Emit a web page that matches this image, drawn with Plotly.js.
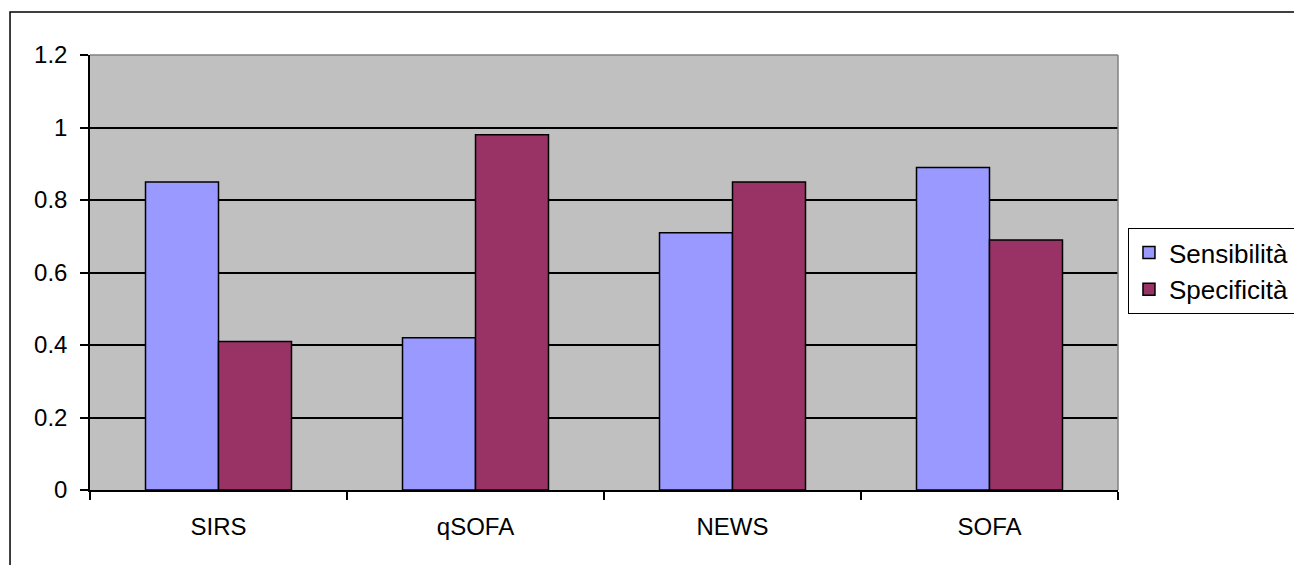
<!DOCTYPE html>
<html>
<head>
<meta charset="utf-8">
<script src="https://cdn.plot.ly/plotly-3.0.1.min.js"></script>
<style>html,body{margin:0;padding:0;background:#fff;}#chart{width:1294px;height:565px;}</style>
</head>
<body>
<div id="chart"></div>
<script>
const categories = ["SIRS", "qSOFA", "NEWS", "SOFA"];
const sensibilita = [0.85, 0.42, 0.71, 0.89];
const specificita = [0.41, 0.98, 0.85, 0.69];
const seriesNames = ["Sensibilità", "Specificità"];
const yTicks = [0, 0.2, 0.4, 0.6, 0.8, 1, 1.2];

const font = {family: "Liberation Sans, Arial, sans-serif", size: 24, color: "#000"};
const legendFont = {family: "Liberation Sans, Arial, sans-serif", size: 26, color: "#000"};

const traces = [
  {type: "bar", name: seriesNames[0], x: categories, y: sensibilita,
   marker: {color: "#9999FF", line: {color: "#000", width: 1.5}}, hoverinfo: "x+y"},
  {type: "bar", name: seriesNames[1], x: categories, y: specificita,
   marker: {color: "#993366", line: {color: "#000", width: 1.5}}, hoverinfo: "x+y"}
];

const layout = {
  width: 1294, height: 565,
  margin: {l: 90, r: 176, t: 55, b: 75, pad: 0, autoexpand: false},
  paper_bgcolor: "#fff",
  plot_bgcolor: "#C0C0C0",
  font: font,
  barmode: "group",
  bargap: 0.432,
  bargroupgap: 0,
  showlegend: true,
  legend: {x: 1.0097, y: 0.602, xanchor: "left", yanchor: "top",
           bgcolor: "#fff", bordercolor: "#000", borderwidth: 1,
           font: legendFont, tracegroupgap: 0, itemwidth: 30},
  xaxis: {type: "category", tickson: "boundaries", ticks: "outside", ticklen: 8,
          tickcolor: "#000", tickwidth: 1.5, showline: true, linecolor: "#000", linewidth: 1.5,
          showgrid: false, ticklabelstandoff: 14, tickfont: font, fixedrange: true, automargin: false},
  yaxis: {range: [0, 1.2], tickvals: yTicks, ticks: "outside", ticklen: 8, tickcolor: "#000",
          tickwidth: 1.5, showline: true, linecolor: "#000", linewidth: 1.5,
          showgrid: true, gridcolor: "#000", gridwidth: 1.5, zeroline: false,
          ticklabelstandoff: 8, tickfont: font, fixedrange: true, automargin: false},
  shapes: [
    {type: "rect", xref: "paper", yref: "paper", x0: -0.0778, x1: 2, y0: -1, y1: 1.0989,
     line: {color: "#000", width: 1.5}, fillcolor: "rgba(0,0,0,0)", layer: "below"},
    {type: "line", xref: "paper", yref: "paper", x0: 0, x1: 1, y0: 1, y1: 1,
     line: {color: "#808080", width: 1.5}, layer: "above"},
    {type: "line", xref: "paper", yref: "paper", x0: 1, x1: 1, y0: 0, y1: 1,
     line: {color: "#808080", width: 1.5}, layer: "above"}
  ]
};

Plotly.newPlot("chart", traces, layout, {displayModeBar: false});
</script>
</body>
</html>
